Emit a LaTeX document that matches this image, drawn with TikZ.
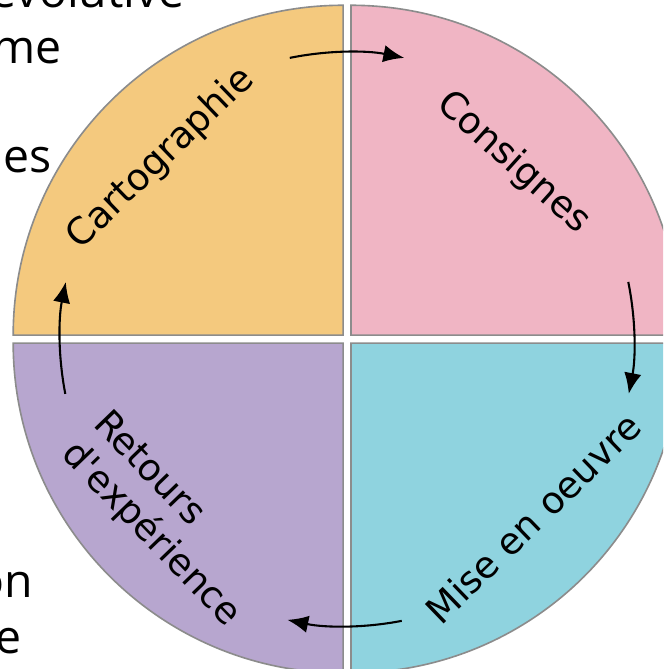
\documentclass[tikz,border=0pt]{standalone}
\usepackage{fontspec}
\setmainfont{DejaVu Sans}
\newfontfamily\sidefont{Open Sans}
\usetikzlibrary{arrows.meta}
\definecolor{carto}{RGB}{244,201,126}
\definecolor{consi}{RGB}{240,181,196}
\definecolor{miseo}{RGB}{143,211,223}
\definecolor{retex}{RGB}{183,166,207}

\begin{document}
\begin{tikzpicture}[font=\fontsize{16}{19}\selectfont,
  slice/.style={draw=black!45, line width=0.7pt},
  phase/.style={align=left, inner sep=0pt},
  side/.style={font=\sidefont\fontsize{20}{24}\selectfont, inner sep=0pt, anchor=base east},
  cycarrow/.style={line width=0.9pt, -{Latex[length=9pt,width=7.5pt]}}]
\clip (-5.26,-5.0) rectangle (4.79,5.14);

% the four quarters
\filldraw[slice,fill=carto] (-0.06,0.06) -- ++(-5,0) arc[start angle=180,end angle=90,radius=5] -- cycle;
\filldraw[slice,fill=consi] (0.06,0.06) -- ++(0,5) arc[start angle=90,end angle=0,radius=5] -- cycle;
\filldraw[slice,fill=miseo] (0.06,-0.06) -- ++(5,0) arc[start angle=0,end angle=-90,radius=5] -- cycle;
\filldraw[slice,fill=retex] (-0.06,-0.06) -- ++(0,-5) arc[start angle=-90,end angle=-180,radius=5] -- cycle;

\node[phase,rotate=44] (carto) at (-2.82,2.74){Cartographie};
\node[phase,rotate=-42] (consignes) at (2.52,2.67){Consignes};
\node[phase,rotate=44] (mise) at (2.82,-2.71){Mise en oeuvre};
\node[phase,rotate=-46] (retours) at (-2.74,-2.74){Retours\\d\textquotesingle exp\'erience};

% cycle arrows
\coordinate (a1) at (101.5:4.35);
\coordinate (a2) at (11.5:4.35);
\coordinate (a3) at (-79:4.35);
\coordinate (a4) at (191:4.35);
\draw[cycarrow] (a1) arc[start angle=101.5,end angle=78.5,radius=4.35];
\draw[cycarrow] (a2) arc[start angle=11.5,end angle=-11,radius=4.35];
\draw[cycarrow] (a3) arc[start angle=-79,end angle=-102,radius=4.35];
\draw[cycarrow] (a4) arc[start angle=191,end angle=168.5,radius=4.35];

% text cut off at the left
\node[side] (frag1) at (-2.455,5.03){évolutive};
\node[side] (frag2) at (-4.318,4.182){me};
\node[side] (frag3) at (-4.47,2.53){es};
\node[side] (frag4) at (-4.758,-3.909){on};
\node[side] (frag5) at (-4.924,-4.758){e};
\end{tikzpicture}
\end{document}
